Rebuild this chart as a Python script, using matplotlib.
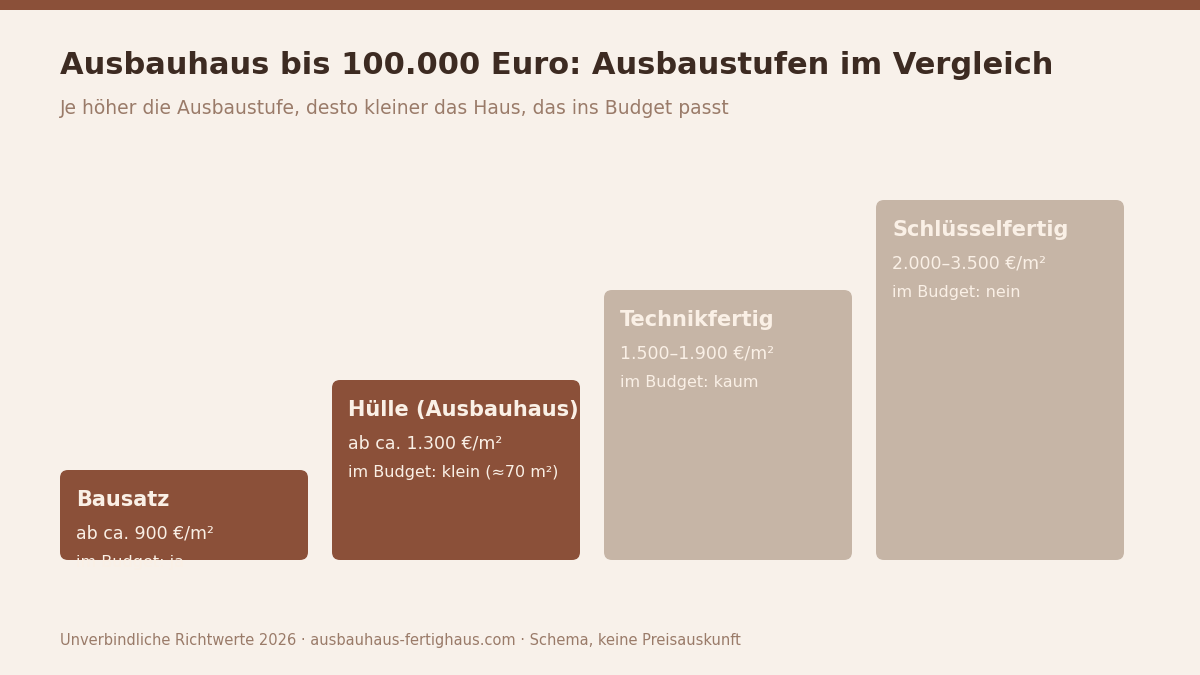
import matplotlib
matplotlib.use("Agg")
import matplotlib.pyplot as plt
from matplotlib.patches import FancyBboxPatch, Rectangle

stages = ["Bausatz", "Hülle (Ausbauhaus)", "Technikfertig", "Schlüsselfertig"]
prices = ["ab ca. 900 €/m²", "ab ca. 1.300 €/m²", "1.500–1.900 €/m²", "2.000–3.500 €/m²"]
budget = ["im Budget: ja", "im Budget: klein (≈70 m²)", "im Budget: kaum", "im Budget: nein"]
levels = [1, 2, 3, 4]
in_budget = [True, True, False, False]

BG = "#F8F1EA"; DARK = "#8B5039"; LIGHT = "#C6B5A6"; TXT = "#FAF0E6"

fig = plt.figure(figsize=(12, 6.75), dpi=100, facecolor=BG)
ax = fig.add_axes([0, 0, 1, 1])
ax.set_xlim(0, 1200); ax.set_ylim(675, 0); ax.axis("off")
ax.set_facecolor(BG)
ax.add_patch(Rectangle((0, 0), 1200, 10, color=DARK, lw=0))

ax.text(60, 65, "Ausbauhaus bis 100.000 Euro: Ausbaustufen im Vergleich", fontsize=22,
        fontweight="bold", color="#3D2B22", va="center", ha="left")
ax.text(60, 108, "Je höher die Ausbaustufe, desto kleiner das Haus, das ins Budget passt",
        fontsize=13.5, color="#9A7B69", va="center", ha="left")

base = 560; step = 90; w = 248; gap = 24; x0 = 60
for i, (s, p, b, lv, ok) in enumerate(zip(stages, prices, budget, levels, in_budget)):
    x = x0 + i * (w + gap)
    top = base - lv * step
    ax.add_patch(FancyBboxPatch((x, top), w, base - top,
                                boxstyle="round,pad=0,rounding_size=8",
                                fc=DARK if ok else LIGHT, ec="none", zorder=2 + 2 * i))
    z = 3 + 2 * i
    ax.text(x + 16, top + 30, s, fontsize=15, fontweight="bold", color=TXT, va="center", zorder=z)
    ax.text(x + 16, top + 63, p, fontsize=12.5, color=TXT, va="center", zorder=z)
    ax.text(x + 16, top + 93, b, fontsize=11.5, color=TXT, va="center", zorder=z)

ax.text(60, 641, "Unverbindliche Richtwerte 2026 · ausbauhaus-fertighaus.com · Schema, keine Preisauskunft",
        fontsize=10.5, color="#9A7B69", va="center", ha="left")

fig.savefig("out.png", dpi=100, facecolor=BG)
